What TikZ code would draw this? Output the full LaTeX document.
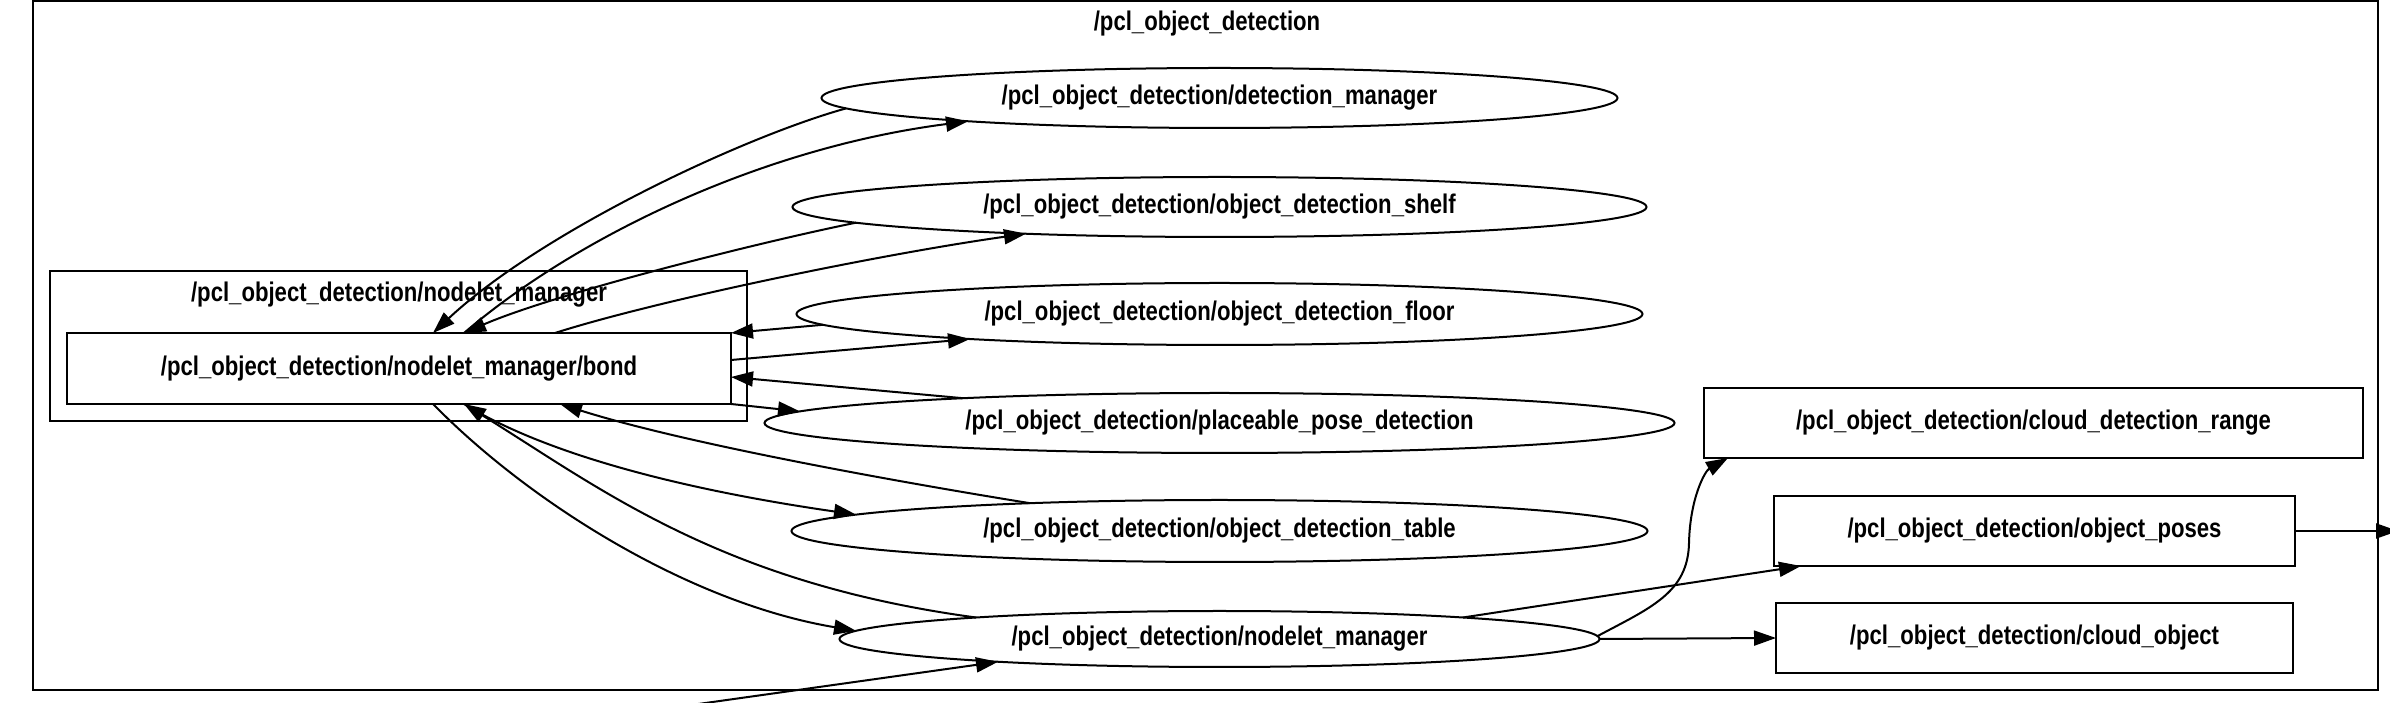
\documentclass[tikz,border=0pt]{standalone}
\usepackage{fontspec}
\newfontfamily\labfam{Liberation Sans}[FakeStretch=0.82]
\newcommand\labfnt{\labfam\bfseries\fontsize{27}{30}\selectfont}
\usetikzlibrary{shapes.geometric,arrows.meta}
\tikzset{
  ell/.style={draw, ellipse, line width=2pt, inner sep=0pt, outer sep=0pt, minimum height=60pt, font=\labfnt},
  box/.style={draw, rectangle, line width=2pt, inner sep=0pt, outer sep=0pt, minimum height=70pt, font=\labfnt},
  clus/.style={draw, rectangle, line width=2pt, inner sep=0pt, outer sep=0pt},
  ttl/.style={inner sep=0pt, font=\labfnt},
  conn/.style={line width=2pt, -{Triangle[length=22pt,width=15pt]}},
}
\begin{document}
\begin{tikzpicture}[x=1pt,y=1pt]
\useasboundingbox (0,0) rectangle (2390,703);
% clusters
\node[clus, minimum width=2345pt, minimum height=689pt] (outer) at (1205.5,357.5) {};
\node[ttl] (outerlbl) at (1207,679) {/pcl\_object\_detection};
\node[clus, minimum width=697pt, minimum height=150pt] (inner) at (398.5,357) {};
\node[ttl] (innerlbl) at (399,408) {/pcl\_object\_detection/nodelet\_manager};
\node[box, minimum width=664pt, minimum height=71pt] (bond) at (399,334.5) {/pcl\_object\_detection/nodelet\_manager/bond};
% ellipses
\node[ell, minimum width=796pt] (dm) at (1219.5,605) {/pcl\_object\_detection/detection\_manager};
\node[ell, minimum width=854pt] (shelf) at (1219.5,496) {/pcl\_object\_detection/object\_detection\_shelf};
\node[ell, minimum width=846pt, minimum height=62pt] (floor) at (1219.5,389) {/pcl\_object\_detection/object\_detection\_floor};
\node[ell, minimum width=910pt] (place) at (1219.5,280) {/pcl\_object\_detection/placeable\_pose\_detection};
\node[ell, minimum width=856pt, minimum height=62pt] (table) at (1219.5,172) {/pcl\_object\_detection/object\_detection\_table};
\node[ell, minimum width=760pt, minimum height=56pt] (nm) at (1219.5,64) {/pcl\_object\_detection/nodelet\_manager};
% topic boxes
\node[box, minimum width=659pt] (cdr) at (2033.5,280) {/pcl\_object\_detection/cloud\_detection\_range};
\node[box, minimum width=521pt] (op) at (2034.5,172) {/pcl\_object\_detection/object\_poses};
\node[box, minimum width=517pt] (co) at (2034.5,65) {/pcl\_object\_detection/cloud\_object};
\coordinate (offright) at (2398,172);
\coordinate (offbottom) at (670,-5);
% edges
\draw[conn] ([shift={(-373.5,-10.4)}]dm.center) .. controls (740,565) and (540,470) .. ([xshift=366pt]bond.north west);
\draw[conn] ([xshift=397pt]bond.north west) .. controls (575,465) and (760,555) .. ([shift={(-251.5,-23.3)}]dm.center);
\draw[conn] ([shift={(-363.5,-15.7)}]shelf.center) .. controls (756,460) and (554,409) .. ([xshift=397pt]bond.north west);
\draw[conn] ([xshift=488pt]bond.north west) .. controls (655,402) and (876,448) .. ([shift={(-193.5,-26.7)}]shelf.center);
\draw[conn] ([shift={(-396.5,-10.8)}]floor.center) -- (bond.north east);
\draw[conn] ([yshift=-27pt]bond.north east) -- ([shift={(-249.5,-25)}]floor.center);
\draw[conn] ([shift={(-256.5,24.8)}]place.center) -- ([yshift=-44pt]bond.north east);
\draw[conn] (bond.south east) -- ([shift={(-419.5,11.6)}]place.center);
\draw[conn] ([shift={(-189.5,27.8)}]table.center) .. controls (880,224) and (680,261) .. ([xshift=493pt]bond.south west);
\draw[conn] ([xshift=397pt]bond.south west) .. controls (560,240) and (720,208) .. ([shift={(-363.5,16.4)}]table.center);
\draw[conn] ([shift={(-243.5,21.5)}]nm.center) .. controls (720,120) and (600,215) .. ([xshift=397pt]bond.south west);
\draw[conn] ([xshift=366pt]bond.south west) .. controls (530,200) and (690,100) .. ([shift={(-363.5,8.2)}]nm.center);
\draw[conn] ([shift={(378,2.9)}]nm.center) .. controls (1650,95) and (1688,110) .. (1689,160) .. controls (1690,205) and (1705,232) .. ([xshift=24pt]cdr.south west);
\draw[conn] ([shift={(243.5,21.5)}]nm.center) -- ([xshift=27pt]op.south west);
\draw[conn] (nm.east) -- (co.west);
\draw[conn] (op.east) -- (offright);
\draw[conn] (offbottom) -- ([shift={(-221.5,-22.8)}]nm.center);
\end{tikzpicture}
\end{document}
